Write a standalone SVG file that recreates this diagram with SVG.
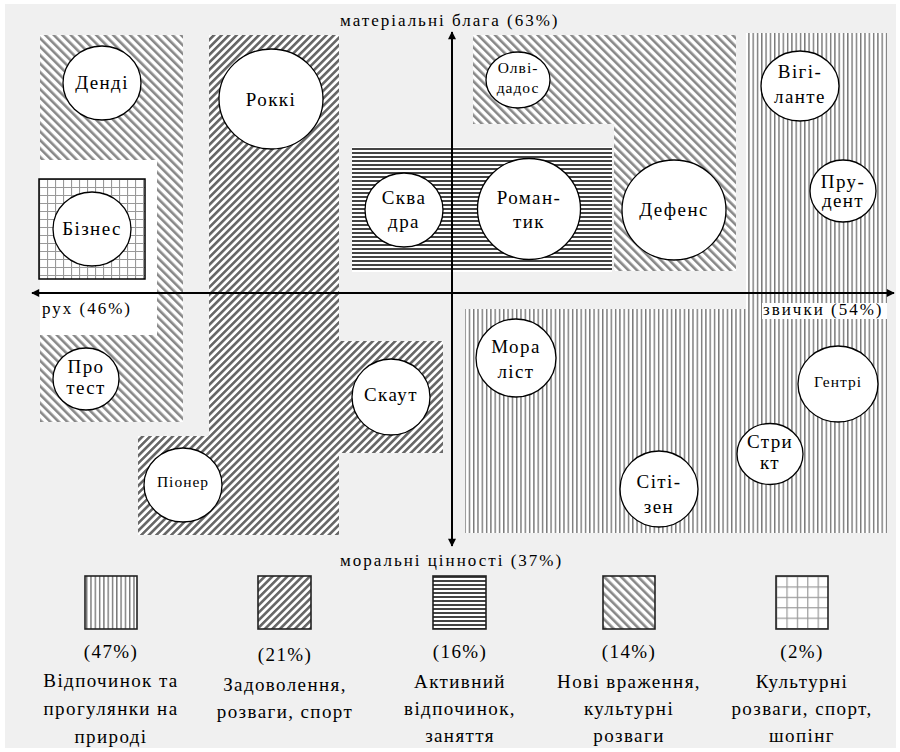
<svg xmlns="http://www.w3.org/2000/svg" width="900" height="752" viewBox="0 0 900 752" font-family="Liberation Serif, DejaVu Serif, Noto Serif, Times New Roman, serif">
<defs>
<style>
.t{fill:#000;text-anchor:middle;font-size:19px;letter-spacing:1.4px}
.s{font-size:15.5px;letter-spacing:1px}
.ax{fill:#000;font-size:17px;letter-spacing:2px}
.c{fill:#fff;stroke:#000;stroke-width:1.3}
.lb{stroke:#222;stroke-width:1.6}
.axis{stroke:#000;stroke-width:2;fill:none}
</style>
<pattern id="pv" width="4.3" height="10" patternUnits="userSpaceOnUse"><rect width="4.3" height="10" fill="#fff"/><rect width="1.4" height="10" fill="#777"/></pattern>
<pattern id="pbs" width="6" height="6" patternUnits="userSpaceOnUse" patternTransform="rotate(-45)"><rect width="6" height="6" fill="#fff"/><rect width="2.6" height="6" fill="#888"/></pattern>
<pattern id="ps" width="5.3" height="6" patternUnits="userSpaceOnUse" patternTransform="rotate(45)"><rect width="5.3" height="6" fill="#fff"/><rect width="2.6" height="6" fill="#666"/></pattern>
<pattern id="ph" width="10" height="4" patternUnits="userSpaceOnUse"><rect width="10" height="4" fill="#fff"/><rect width="10" height="2" fill="#444"/></pattern>
<pattern id="pg" width="8" height="8" patternUnits="userSpaceOnUse" x="39" y="179"><rect width="8" height="8" fill="#fff"/><path d="M0 0.5H8M0.5 0V8" stroke="#999" stroke-width="1.2"/></pattern>
<pattern id="pg2" width="10.4" height="10.4" patternUnits="userSpaceOnUse" x="776" y="576"><rect width="10.4" height="10.4" fill="#fff"/><path d="M0 0.5H10.4M0.5 0V10.4" stroke="#999" stroke-width="1.4"/></pattern>
<marker id="ah" viewBox="0 0 10 10" refX="9" refY="5" markerWidth="10" markerHeight="8" markerUnits="userSpaceOnUse" orient="auto-start-reverse"><path d="M0,0 L10,5 L0,10 z" fill="#000"/></marker>
</defs>
<rect x="0" y="0" width="900" height="752" fill="#fff"/>
<rect x="5" y="4" width="891" height="744" fill="#f0f0f0"/>

<g id="regions">
<rect id="regA" x="40" y="35" width="143" height="387" fill="url(#pbs)"/>
<rect id="whiteA" x="40" y="160" width="117" height="175" fill="#fff"/>
<path id="regB" d="M209 35H339V341H443V453H339V535H138V436H209Z" fill="url(#ps)"/>
<rect id="regC" x="352" y="147" width="260" height="125" fill="url(#ph)"/>
<path id="regD" d="M473 35H736V271H614V124H473Z" fill="url(#pbs)"/>
<path id="regE" d="M746 33H887V533H465V309H746Z" fill="url(#pv)"/>
<rect id="regF" x="39" y="179" width="106" height="100" fill="url(#pg)" stroke="#000" stroke-width="1.5"/>
<rect x="762" y="303" width="125" height="16" fill="#fff"/>
</g>

<g id="connectors">
<line class="axis" x1="32" y1="293" x2="894" y2="293" marker-start="url(#ah)" marker-end="url(#ah)"/>
<line class="axis" x1="452" y1="32" x2="452" y2="546" marker-start="url(#ah)" marker-end="url(#ah)"/>
</g>

<g id="axis-labels">
<text class="ax" x="340" y="26">матеріальні блага (63%)</text>
<text class="ax" x="42" y="314">рух (46%)</text>
<text class="ax" x="763" y="315">звички (54%)</text>
<text class="ax" x="340" y="566">моральні цінності (37%)</text>
</g>

<g id="n-dendi"><ellipse class="c" cx="102" cy="83" rx="39" ry="37"/><text class="t" x="102" y="89">Денді</text></g>
<g id="n-rokki"><ellipse class="c" cx="271" cy="99" rx="52" ry="50"/><text class="t" x="271" y="106">Роккі</text></g>
<g id="n-biznes"><ellipse class="c" cx="92" cy="229" rx="39" ry="37"/><text class="t" x="92" y="235">Бізнес</text></g>
<g id="n-skvadra"><ellipse class="c" cx="404" cy="210" rx="39" ry="37"/><text class="t" x="404" y="204">Сква</text><text class="t" x="404" y="228">дра</text></g>
<g id="n-olvidados"><ellipse class="c" cx="518" cy="80" rx="32" ry="28"/><text class="t s" x="518" y="73">Олві-</text><text class="t s" x="518" y="93">дадос</text></g>
<g id="n-romantyk"><ellipse class="c" cx="529" cy="209" rx="51.5" ry="50.5"/><text class="t" x="529" y="204">Роман-</text><text class="t" x="529" y="228">тик</text></g>
<g id="n-defens"><ellipse class="c" cx="674" cy="210" rx="52" ry="50"/><text class="t" x="674" y="216">Дефенс</text></g>
<g id="n-vigilante"><ellipse class="c" cx="800" cy="86" rx="39" ry="35"/><text class="t" x="800" y="78">Вігі-</text><text class="t" x="800" y="103">ланте</text></g>
<g id="n-prudent"><ellipse class="c" cx="843" cy="191" rx="33" ry="31"/><text class="t" x="843" y="188">Пру-</text><text class="t" x="843" y="207">дент</text></g>
<g id="n-protest"><ellipse class="c" cx="86" cy="379" rx="33" ry="31"/><text class="t" x="86" y="373">Про</text><text class="t" x="86" y="394">тест</text></g>
<g id="n-skaut"><ellipse class="c" cx="391" cy="397" rx="39" ry="38"/><text class="t" x="391" y="401">Скаут</text></g>
<g id="n-pioner"><ellipse class="c" cx="183" cy="485" rx="39" ry="37"/><text class="t s" x="183" y="487">Піонер</text></g>
<g id="n-moralist"><ellipse class="c" cx="516" cy="358" rx="40" ry="39"/><text class="t" x="516" y="353">Мора</text><text class="t" x="516" y="378">ліст</text></g>
<g id="n-gentri"><ellipse class="c" cx="838" cy="384" rx="40" ry="38"/><text class="t s" x="838" y="387">Гентрі</text></g>
<g id="n-strykt"><ellipse class="c" cx="770" cy="454" rx="33" ry="30.5"/><text class="t" x="770" y="448">Стри</text><text class="t" x="770" y="469">кт</text></g>
<g id="n-sitizen"><ellipse class="c" cx="659" cy="489" rx="39" ry="38"/><text class="t" x="659" y="488">Сіті-</text><text class="t" x="659" y="513">зен</text></g>

<g id="legend">
<g id="leg1"><rect class="lb" x="85" y="576" width="52" height="53" fill="url(#pv)"/><text class="t" x="111" y="658">(47%)</text><text class="t" x="111" y="687">Відпочинок та</text><text class="t" x="111" y="715">прогулянки на</text><text class="t" x="111" y="743">природі</text></g>
<g id="leg2"><rect class="lb" x="258" y="576" width="53" height="53" fill="url(#ps)"/><text class="t" x="285" y="661">(21%)</text><text class="t" x="285" y="691">Задоволення,</text><text class="t" x="285" y="718">розваги, спорт</text></g>
<g id="leg3"><rect class="lb" x="433" y="576" width="53" height="53" fill="url(#ph)"/><text class="t" x="460" y="658">(16%)</text><text class="t" x="460" y="688">Активний</text><text class="t" x="460" y="715">відпочинок,</text><text class="t" x="460" y="742">заняття</text></g>
<g id="leg4"><rect class="lb" x="603" y="576" width="52" height="53" fill="url(#pbs)"/><text class="t" x="629" y="658">(14%)</text><text class="t" x="629" y="688">Нові враження,</text><text class="t" x="629" y="715">культурні</text><text class="t" x="629" y="742">розваги</text></g>
<g id="leg5"><rect class="lb" x="776" y="576" width="52" height="53" fill="url(#pg2)"/><text class="t" x="802" y="658">(2%)</text><text class="t" x="802" y="688">Культурні</text><text class="t" x="802" y="715">розваги, спорт,</text><text class="t" x="802" y="742">шопінг</text></g>
</g>
</svg>
